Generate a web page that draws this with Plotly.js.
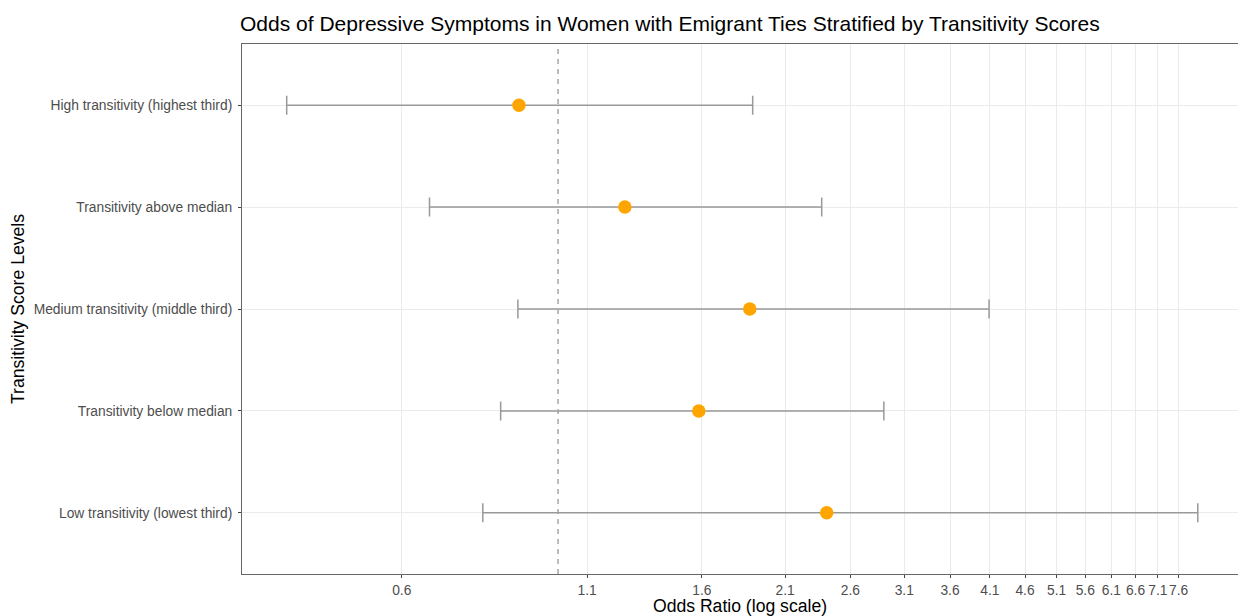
<!DOCTYPE html>
<html>
<head>
<meta charset="utf-8">
<script src="https://cdn.plot.ly/plotly-3.0.1.min.js"></script>
<style>html,body{margin:0;padding:0;background:#fff;}#chart{width:1238px;height:616px;}</style>
</head>
<body>
<div id="chart"></div>
<script>
var categories = ["High transitivity (highest third)", "Transitivity above median", "Medium transitivity (middle third)", "Transitivity below median", "Low transitivity (lowest third)"];
var oddsRatio = [0.88, 1.244, 1.871, 1.584, 2.406];
var ciLow = [0.412, 0.657, 0.877, 0.829, 0.782];
var ciHigh = [1.889, 2.367, 4.09, 2.90, 8.09];
var xTickVals = [0.6, 1.1, 1.6, 2.1, 2.6, 3.1, 3.6, 4.1, 4.6, 5.1, 5.6, 6.1, 6.6, 7.1, 7.6];
var xTickText = ["0.6", "1.1", "1.6", "2.1", "2.6", "3.1", "3.6", "4.1", "4.6", "5.1", "5.6", "6.1", "6.6", "7.1", "7.6"];
var refLine = 1;

var plus = oddsRatio.map(function (v, i) { return ciHigh[i] - v; });
var minus = oddsRatio.map(function (v, i) { return v - ciLow[i]; });

var trace = {
  type: 'scatter',
  mode: 'markers',
  x: oddsRatio,
  y: categories,
  marker: { color: '#FFA500', size: 13.5 },
  error_x: { type: 'data', symmetric: false, array: plus, arrayminus: minus, color: '#999999', thickness: 1.5, width: 9.5 },
  hoverinfo: 'x+y',
  showlegend: false
};

var layout = {
  width: 1238, height: 616,
  margin: { l: 242, r: 0, t: 44, b: 42 },
  paper_bgcolor: '#ffffff', plot_bgcolor: '#ffffff',
  font: { family: 'Liberation Sans, Arial, sans-serif' },
  title: {
    text: 'Odds of Depressive Symptoms in Women with Emigrant Ties Stratified by Transitivity Scores',
    font: { size: 21, color: '#000000' },
    x: 240 / 1238, xref: 'container', xanchor: 'left',
    y: 1 - 24 / 616, yref: 'container', yanchor: 'middle'
  },
  xaxis: {
    type: 'log',
    range: [Math.log10(0.356), Math.log10(0.356) + 996 / 704.6],
    tickmode: 'array', tickvals: xTickVals, ticktext: xTickText,
    tickangle: 0,
    tickfont: { size: 13.8, color: '#4d4d4d' },
    ticks: 'outside', ticklen: 3, tickcolor: '#444', tickwidth: 1,
    showgrid: true, gridcolor: '#ebebeb', gridwidth: 1,
    showline: true, linecolor: '#666', linewidth: 1, mirror: true,
    zeroline: false,
    title: { text: 'Odds Ratio (log scale)', font: { size: 17.6, color: '#000000' }, standoff: 2 },
    automargin: false
  },
  yaxis: {
    type: 'category',
    categoryorder: 'array', categoryarray: categories.slice().reverse(),
    range: [-0.6, 4.6],
    tickfont: { size: 13.8, color: '#4d4d4d' },
    ticks: 'outside', ticklen: 3, tickcolor: '#444', tickwidth: 1,
    ticklabelstandoff: 3,
    showgrid: true, gridcolor: '#ebebeb', gridwidth: 1,
    showline: true, linecolor: '#666', linewidth: 1, mirror: false,
    zeroline: false,
    title: { text: 'Transitivity Score Levels', font: { size: 17.6, color: '#000000' }, standoff: 4 },
    automargin: false
  },
  shapes: [{
    type: 'line', xref: 'x', yref: 'paper', x0: refLine, x1: refLine, y0: 0, y1: 1,
    line: { color: '#999999', width: 1.3, dash: '5px,5px' }, layer: 'below'
  }]
};

Plotly.newPlot('chart', [trace], layout, { displayModeBar: false, staticPlot: true });
</script>
</body>
</html>
